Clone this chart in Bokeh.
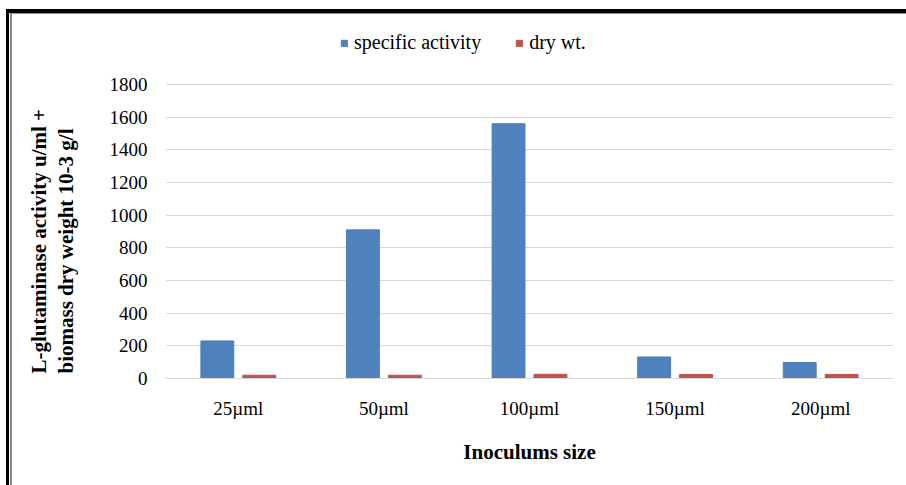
from bokeh.plotting import figure
from bokeh.models import (FactorRange, Range1d, FixedTicker, Legend, LegendItem,
                          ColumnDataSource, Title)
from bokeh.transform import dodge
from bokeh.embed import file_html
from bokeh.resources import INLINE

categories = ["25µml", "50µml", "100µml", "150µml", "200µml"]
specific_activity = [230, 910, 1560, 132, 98]
dry_wt = [20, 20, 26, 25, 25]
y_ticks = [0, 200, 400, 600, 800, 1000, 1200, 1400, 1600, 1800]
y_max = 1800

BLUE = "#4F81BD"
RED = "#C0504D"
SERIF = "Liberation Serif"

src = ColumnDataSource(dict(cat=categories, sa=specific_activity, dw=dry_wt))

# plot frame runs from the canvas top down to the zero line; the value axis
# tops out at 1800 at 84 px, leaving room for the legend inside the frame
p = figure(width=906, height=485, output_backend="svg", toolbar_location=None,
           x_range=FactorRange(*categories, range_padding=0),
           y_range=Range1d(0, y_max * 378 / 294),
           min_border_left=163, min_border_right=13,
           min_border_top=0, min_border_bottom=107)

# thin frame lines of the original figure box (drawn behind a transparent canvas)
p.styles = {"box-shadow": ("inset 6px 9px 0 0 #ffffff, inset 9px 13px 0 0 #000000, "
                           "inset 10px 13px 0 0 #ffffff, inset 12px 14px 0 0 #8a8a8a"),
            "background-color": "#ffffff"}

r1 = p.vbar(x=dodge("cat", -0.144, range=p.x_range), top="sa", width=0.226,
            source=src, fill_color=BLUE, line_color=BLUE)
r2 = p.vbar(x=dodge("cat", 0.144, range=p.x_range), top="dw", width=0.226,
            source=src, fill_color=RED, line_color=RED)

p.background_fill_alpha = 0
p.border_fill_alpha = 0
p.outline_line_color = None

p.xgrid.grid_line_color = None
p.ygrid.grid_line_color = "#D9D9D9"
p.ygrid.grid_line_width = 1
p.yaxis.ticker = FixedTicker(ticks=y_ticks)

for ax in (p.xaxis[0], p.yaxis[0]):
    ax.axis_line_color = None
    ax.major_tick_line_color = None
    ax.minor_tick_line_color = None
    ax.major_tick_out = 0
    ax.minor_tick_out = 0
    ax.major_label_text_font = SERIF
    ax.major_label_text_font_size = "19px"
    ax.major_label_text_color = "#000000"
    ax.axis_label_text_font = SERIF
    ax.axis_label_text_font_size = "21px"
    ax.axis_label_text_font_style = "bold"
    ax.axis_label_text_color = "#000000"

p.xaxis.axis_line_color = "#D9D9D9"
p.xaxis.major_label_standoff = 19
p.xaxis.axis_label = "Inoculums size"
p.xaxis.axis_label_standoff = 18

p.yaxis.major_label_standoff = 18

ytitle = Title(text="L-glutaminase activity u/ml +\nbiomass dry weight 10-3 g/l",
               align="left", offset=5, vertical_align="top", standoff=52,
               text_font=SERIF, text_font_size="21px", text_font_style="bold",
               text_color="#000000", text_line_height=1.15)
p.add_layout(ytitle, "left")

legend = Legend(items=[LegendItem(label="specific activity", renderers=[r1]),
                       LegendItem(label="dry wt.", renderers=[r2])],
                orientation="horizontal", location=(175, 324),
                padding=0, margin=0, spacing=34, label_standoff=6,
                glyph_width=8, glyph_height=8, label_height=20,
                label_text_font=SERIF, label_text_font_size="20px",
                label_text_color="#000000",
                border_line_color=None, background_fill_alpha=0)
p.add_layout(legend, "center")

open("out.html", "w").write(file_html(p, INLINE))
